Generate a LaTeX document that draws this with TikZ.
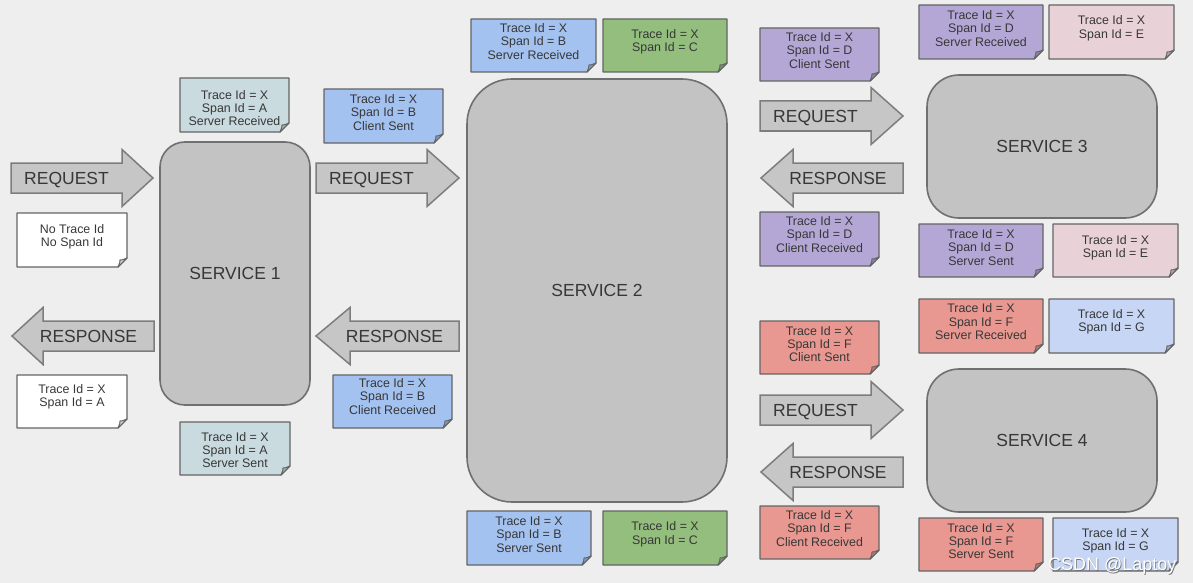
\documentclass[tikz,border=0pt]{standalone}
\usepackage{fontspec}
\setmainfont{Liberation Sans}
\definecolor{bg}{RGB}{238,238,238}
\definecolor{svcfill}{RGB}{195,195,195}
\definecolor{svcline}{RGB}{112,112,112}
\definecolor{arrfill}{RGB}{198,198,198}
\definecolor{arrline}{RGB}{125,125,125}
\definecolor{noteline}{RGB}{100,100,100}
\definecolor{txt}{RGB}{55,55,55}
\definecolor{cA}{RGB}{202,219,223}
\definecolor{cB}{RGB}{164,194,240}
\definecolor{cC}{RGB}{147,190,125}
\definecolor{cD}{RGB}{180,167,214}
\definecolor{cE}{RGB}{232,210,216}
\definecolor{cF}{RGB}{233,152,145}
\definecolor{cG}{RGB}{198,214,244}
\definecolor{cW}{RGB}{255,255,255}
\tikzset{
  svc/.style={draw=svcline, fill=svcfill, line width=1.6pt, inner sep=0pt,
    font=\fontsize{17.5}{20}\selectfont, text=txt},
  arrbody/.style={draw=arrline, fill=arrfill, line width=1.5pt, line join=miter},
  arrtext/.style={font=\fontsize{17.5}{20}\selectfont, text=txt, inner sep=0pt, anchor=base},
  notebd/.style={draw=noteline, line width=1.4pt, line join=round},
  notefold/.style={draw=noteline, line width=1pt, line join=round},
  notetext/.style={font=\fontsize{12.4}{13.3}\selectfont, text=txt, align=center, inner sep=0pt},
}
% #1 name, #2 x1, #3 y1, #4 x2, #5 y2, #6 colour, #7 dy, #8 text
\newcommand\notebox[8]{%
  \draw[notebd, fill=#6] (#2,#3) -- (#4,#3) -- (#4,#5-9) -- (#4-9,#5) -- (#2,#5) -- cycle;
  \filldraw[notefold, fill=#6!80!black] (#4-9,#5) -- (#4,#5-9) .. controls (#4-5,#5-7) .. (#4-7,#5-7) .. controls (#4-7,#5-5) .. cycle;
  \node[notetext] (#1) at ({(#2+#4)/2},{(#3+#5)/2+(#7)}) {#8};
}
% right-pointing: #1 name, #2 x left, #3 head base, #4 tip, #5 yc, #6 text
\newcommand\reqarrow[6]{%
  \draw[arrbody] (#2,#5-15) -- (#3,#5-15) -- (#3,#5-28.5) -- (#4,#5) -- (#3,#5+28.5) -- (#3,#5+15) -- (#2,#5+15) -- cycle;
  \node[arrtext] (#1) at ({(#2+#3)/2},#5+6.3) {#6};
}
% left-pointing: #1 name, #2 tip, #3 head base, #4 x right, #5 yc, #6 text
\newcommand\resarrow[6]{%
  \draw[arrbody] (#4,#5-15) -- (#3,#5-15) -- (#3,#5-28.5) -- (#2,#5) -- (#3,#5+28.5) -- (#3,#5+15) -- (#4,#5+15) -- cycle;
  \node[arrtext] (#1) at ({(#3+#4)/2-10},#5+6.3) {#6};
}
\begin{document}
\begin{tikzpicture}[x=1pt,y=-1pt]
\fill[bg] (0,0) rectangle (1193,583);
\useasboundingbox (0,0) rectangle (1193,583);

% services
\node[svc, rounded corners=25pt, minimum width=150pt, minimum height=263pt] (s1) at (235,273.5) {SERVICE 1};
\node[svc, rounded corners=45pt, minimum width=260pt, minimum height=423pt] (s2) at (597,290.5) {SERVICE 2};
\node[svc, rounded corners=32pt, minimum width=230pt, minimum height=143pt] (s3) at (1042,146.5) {SERVICE 3};
\node[svc, rounded corners=32pt, minimum width=230pt, minimum height=143pt] (s4) at (1042,440.5) {SERVICE 4};

% arrows
\reqarrow{req1}{11}{122}{153}{178}{REQUEST}
\resarrow{res1}{12}{43}{154}{336}{RESPONSE}
\reqarrow{req2}{316}{427}{459}{178}{REQUEST}
\resarrow{res2}{316}{350}{459}{336}{RESPONSE}
\reqarrow{req3}{760}{871}{903}{116}{REQUEST}
\resarrow{res3}{761}{793}{903}{178}{RESPONSE}
\reqarrow{req4}{760}{871}{903}{410}{REQUEST}
\resarrow{res4}{761}{793}{903}{472}{RESPONSE}

% notes, service 1
\notebox{nAsr}{180}{78}{289}{132}{cA}{3}{Trace Id = X\\Span Id = A\\Server Received}
\notebox{nnone}{17}{213}{127}{267}{cW}{-3.5}{No Trace Id\\No Span Id}
\notebox{nAres}{17}{375}{127}{428}{cW}{-5}{Trace Id = X\\Span Id = A}
\notebox{nAss}{180}{422}{290}{475}{cA}{1.5}{Trace Id = X\\Span Id = A\\Server Sent}
% service 2
\notebox{nBcs}{324}{89}{443}{143}{cB}{-3.5}{Trace Id = X\\Span Id = B\\Client Sent}
\notebox{nBcr}{333}{375}{452}{428}{cB}{-5}{Trace Id = X\\Span Id = B\\Client Received}
\notebox{nBsr}{471}{19}{596}{72}{cB}{-4}{Trace Id = X\\Span Id = B\\Server Received}
\notebox{nCa}{603}{19}{727}{72}{cC}{-4}{Trace Id = X\\Span Id = C}
\notebox{nBss}{467}{511}{591}{565}{cB}{-3.5}{Trace Id = X\\Span Id = B\\Server Sent}
\notebox{nCb}{603}{511}{727}{565}{cC}{-3.7}{Trace Id = X\\Span Id = C}
% service 3
\notebox{nDcs}{760}{28}{879}{81}{cD}{-4}{Trace Id = X\\Span Id = D\\Client Sent}
\notebox{nDcr}{760}{212}{879}{266}{cD}{-4.5}{Trace Id = X\\Span Id = D\\Client Received}
\notebox{nDsr}{919}{5}{1043}{59}{cD}{-3.5}{Trace Id = X\\Span Id = D\\Server Received}
\notebox{nEa}{1049}{5}{1174}{59}{cE}{-3.7}{Trace Id = X\\Span Id = E}
\notebox{nDss}{919}{224}{1043}{277}{cD}{-3}{Trace Id = X\\Span Id = D\\Server Sent}
\notebox{nEb}{1053}{224}{1178}{277}{cE}{-3}{Trace Id = X\\Span Id = E}
% service 4
\notebox{nFcs}{760}{321}{879}{374}{cF}{-3.5}{Trace Id = X\\Span Id = F\\Client Sent}
\notebox{nFcr}{760}{506}{879}{559}{cF}{-4}{Trace Id = X\\Span Id = F\\Client Received}
\notebox{nFsr}{919}{299}{1043}{353}{cF}{-4.3}{Trace Id = X\\Span Id = F\\Server Received}
\notebox{nGa}{1049}{299}{1174}{353}{cG}{-4.3}{Trace Id = X\\Span Id = G}
\notebox{nFss}{919}{518}{1043}{571}{cF}{-3.5}{Trace Id = X\\Span Id = F\\Server Sent}
\notebox{nGb}{1053}{518}{1178}{571}{cG}{-3.5}{Trace Id = X\\Span Id = G}

% watermark
\node[font=\fontsize{18}{20}\selectfont, text=black!55, inner sep=0pt] at (1113,566.8) {CSDN @Laptoy};
\node[font=\fontsize{18}{20}\selectfont, text=white, inner sep=0pt] (wm) at (1112.3,566) {CSDN @Laptoy};
\end{tikzpicture}
\end{document}
